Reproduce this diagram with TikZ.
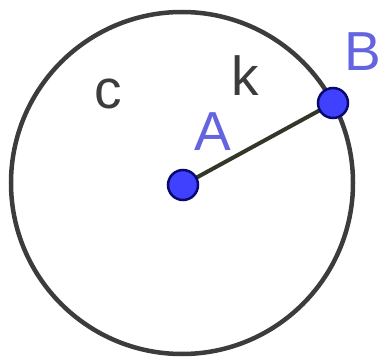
\documentclass[tikz,border=0pt]{standalone}
\usepackage{fontspec}
\setmainfont{Liberation Sans}
\definecolor{ptfill}{RGB}{64,64,255}
\definecolor{ptline}{RGB}{10,10,110}
\definecolor{lblblue}{RGB}{100,100,225}
\definecolor{circgray}{RGB}{60,60,60}
\definecolor{seggray}{RGB}{50,55,40}
\tikzset{
  pt/.style={circle, fill=ptfill, draw=ptline, line width=2.5pt, minimum size=30pt, inner sep=0pt},
  ptlabel/.style={text=lblblue, inner sep=0pt, font=\fontsize{55}{60}\selectfont},
  objlabel/.style={text=circgray, inner sep=0pt, font=\fontsize{55}{60}\selectfont},
}
\begin{document}
\begin{tikzpicture}[x=1pt,y=-1pt]
\useasboundingbox (0,0) rectangle (380,358);
\node[circle, draw=circgray, line width=4.5pt, minimum size=342pt, inner sep=0pt] (circ) at (182,183) {};
\coordinate (a) at (183,185);
\coordinate (b) at (333,103);
\draw[seggray, line width=4pt] (a) -- (b);
\node[pt] (A) at (a) {};
\node[pt] (B) at (b) {};
\node[ptlabel] (lA) at (213,132) {A};
\node[ptlabel] (lB) at (363,52) {B};
\node[objlabel] (lc) at (108,94) {c};
\node[objlabel] (lk) at (245,76) {k};
\end{tikzpicture}
\end{document}
